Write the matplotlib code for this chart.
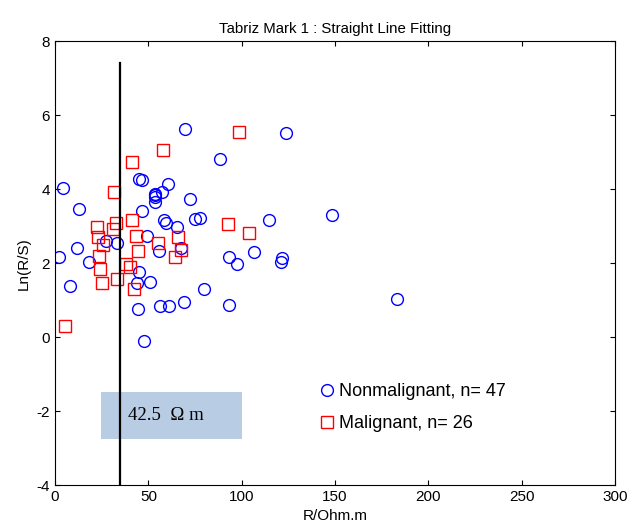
import matplotlib
matplotlib.use('Agg')
import matplotlib.pyplot as plt
import numpy as np

plt.rcParams['font.family'] = ['Liberation Sans', 'DejaVu Sans']
plt.rcParams['axes.unicode_minus'] = False

# Nonmalignant samples (R/Ohm.m, Ln(R/S))
benign_r = [4.1, 12.7, 12.0, 2.1, 18.3, 7.9, 27.2, 33.1, 45.2, 46.7,
            60.5, 57.2, 53.6, 53.3, 53.3, 72.1, 46.5, 58.1, 59.4, 65.3,
            75.1, 77.4, 49.5, 55.8, 67.2, 69.4, 123.6, 88.4, 114.6, 148.1,
            93.2, 97.3, 106.4, 121.6, 121.0, 79.9, 69.2, 93.2, 45.0, 43.8,
            50.6, 44.5, 56.2, 61.2, 47.4, 183.3, 53.8]
benign_ln = [4.04, 3.46, 2.41, 2.16, 2.03, 1.39, 2.61, 2.54, 4.29, 4.25,
             4.14, 3.92, 3.87, 3.80, 3.65, 3.75, 3.41, 3.17, 3.10, 2.99,
             3.20, 3.23, 2.73, 2.33, 2.42, 5.64, 5.53, 4.83, 3.16, 3.30,
             2.18, 1.97, 2.31, 2.14, 2.03, 1.30, 0.95, 0.87, 1.77, 1.46,
             1.50, 0.78, 0.85, 0.85, -0.10, 1.03, 3.84]

# Malignant samples
malig_r = [31.8, 22.4, 22.9, 32.4, 31.3, 41.1, 43.5, 25.6, 23.3, 44.5,
           24.3, 25.0, 33.3, 38.0, 40.0, 42.5, 5.5, 54.9, 65.8, 67.4,
           64.0, 57.8, 41.1, 98.7, 92.4, 103.7]
malig_ln = [3.93, 2.99, 2.72, 3.08, 2.94, 3.18, 2.74, 2.49, 2.21, 2.33,
            1.86, 1.47, 1.58, 1.98, 1.90, 1.31, 0.32, 2.54, 2.70, 2.36,
            2.18, 5.06, 4.73, 5.54, 3.05, 2.81]

cutoff = 35
line_top = 7.4
cutoff_label = '42.5  \u03A9 m'

fig = plt.figure(figsize=(6.33, 5.28), dpi=100)
ax = fig.add_axes([0.087, 0.0805, 0.8846, 0.8415])

# shaded label box
ax.add_patch(plt.Rectangle((24.7, -2.74), 75.6, 1.26, facecolor='#b8cce4',
                           edgecolor='none', zorder=1))
ax.text(39, -2.12, cutoff_label, family=['Liberation Serif', 'DejaVu Serif'],
        fontsize=13.5, va='center', ha='left', zorder=4)

ax.plot([cutoff, cutoff], [-4, line_top], color='black', lw=1.6, zorder=3)

ax.plot(benign_r, benign_ln, 'o', mfc='none', mec='blue', ms=8.5, mew=1,
        label='Nonmalignant, n= %d' % len(benign_r), zorder=2)
ax.plot(malig_r, malig_ln, 's', mfc='none', mec='red', ms=8.5, mew=1,
        label='Malignant, n= %d' % len(malig_r), zorder=2)

ax.set_xlim(0, 300)
ax.set_ylim(-4, 8)
ax.set_xticks(np.arange(0, 301, 50))
ax.set_yticks(np.arange(-4, 9, 2))
ax.tick_params(direction='in', top=True, right=True, labelsize=11)

ax.set_title('Tabriz Mark 1 : Straight Line Fitting', fontsize=10.8)
ax.set_xlabel('R/Ohm.m', fontsize=11, labelpad=3)
ax.set_ylabel('Ln(R/S)', fontsize=11)

ax.legend(loc='center left', bbox_to_anchor=(0.44, 0.175), frameon=False,
          fontsize=13, handlelength=1, handletextpad=0.2, labelspacing=0.85)

fig.savefig('out.png', dpi=100)
